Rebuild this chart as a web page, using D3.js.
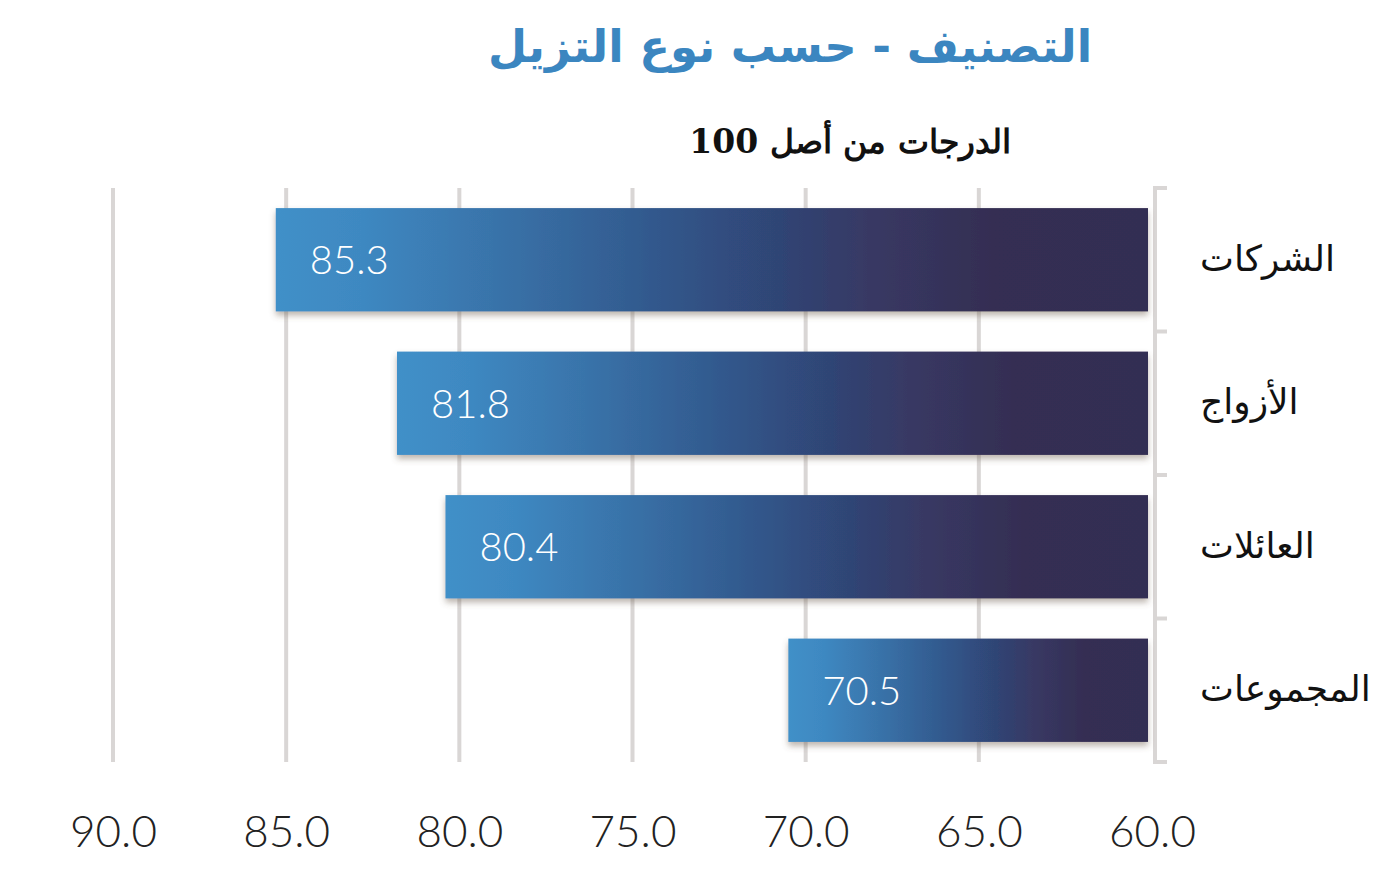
<!DOCTYPE html>
<html><head><meta charset="utf-8">
<script src="https://cdn.jsdelivr.net/npm/d3@7/dist/d3.min.js"></script>
<style>body{margin:0;background:#fff}svg{display:block}</style>
</head><body>
<svg id="c" width="1380" height="872"></svg>
<script>
const categories = ["الشركات","الأزواج","العائلات","المجموعات"];
const values = [85.3, 81.8, 80.4, 70.5];
const tickValues = [90, 85, 80, 75, 70, 65, 60];
const titleText = "التصنيف - حسب نوع التزيل";
const subtitleText = "الدرجات من أصل 100";

const svg = d3.select("#c");
const x = d3.scaleLinear().domain([90, 60]).range([113, 1152]);
const y = d3.scaleBand().domain(categories).range([188, 762]).paddingInner(0.28).paddingOuter(0.14);

const defs = svg.append("defs");
const grad = defs.append("linearGradient").attr("id","g").attr("x1","0").attr("x2","1").attr("y1","0").attr("y2","0");
[[0,"#4190c8"],[0.1,"#3e88c1"],[0.28,"#386fa5"],[0.45,"#31568a"],[0.58,"#2f4474"],[0.68,"#383964"],[0.82,"#342e53"],[1,"#332d52"]]
  .forEach(([o,c])=>grad.append("stop").attr("offset",o).attr("stop-color",c));
const f = defs.append("filter").attr("id","sh").attr("x","-5%").attr("y","-10%").attr("width","110%").attr("height","130%");
f.append("feDropShadow").attr("dx",0).attr("dy",4).attr("stdDeviation",3).attr("flood-color","#6b5a4a").attr("flood-opacity",0.45);

// title
svg.append("text").attr("x",790).attr("y",62).attr("text-anchor","middle")
  .attr("font-family","DejaVu Sans").attr("font-weight","bold").attr("font-size",45)
  .attr("fill","#3b86c0").text(titleText);
svg.append("text").attr("x",850).attr("y",153).attr("text-anchor","middle")
  .attr("font-family","DejaVu Serif, Liberation Serif").attr("font-weight","bold").attr("font-size",33)
  .attr("fill","#111").text(subtitleText);

// gridlines
svg.append("g").selectAll("line").data(tickValues.filter(d=>d!==60)).join("line")
  .attr("x1",d=>x(d)).attr("x2",d=>x(d)).attr("y1",188).attr("y2",762)
  .attr("stroke","#d9d6d5").attr("stroke-width",4);

// x axis labels
const xAxis = d3.axisBottom(x).tickValues(tickValues).tickFormat(d3.format(".1f")).tickSize(0).tickPadding(0);
const gx = svg.append("g").attr("transform","translate(0,816)").call(xAxis);
gx.select(".domain").remove();
gx.selectAll("text").attr("font-family","Lato").attr("font-weight",300).attr("font-size",44)
  .attr("fill","#222").attr("dy","0.71em");

// right axis
const gy = svg.append("g").attr("transform","translate(1155,0)");
gy.append("line").attr("x1",0).attr("x2",0).attr("y1",188).attr("y2",762).attr("stroke","#d9d6d5").attr("stroke-width",4);
const bounds = [188, ...categories.slice(1).map(c=>y(c)-y.step()*y.paddingInner()/2), 762];
gy.selectAll("line.t").data(bounds).join("line").attr("class","t")
  .attr("x1",-2).attr("x2",12).attr("y1",d=>d).attr("y2",d=>d)
  .attr("stroke","#d9d6d5").attr("stroke-width",4);

// bars
const data = categories.map((c,i)=>({c, v: values[i]}));
svg.append("g").selectAll("rect").data(data).join("rect")
  .attr("x",d=>x(d.v)).attr("y",d=>y(d.c)).attr("width",d=>x(60)-4-x(d.v)).attr("height",y.bandwidth())
  .attr("fill","url(#g)").attr("filter","url(#sh)");

svg.append("g").selectAll("text").data(data).join("text")
  .attr("x",d=>x(d.v)+34).attr("y",d=>y(d.c)+y.bandwidth()/2).attr("dy","0.36em")
  .attr("font-family","Lato").attr("font-weight",300).attr("font-size",40).attr("fill","#fff")
  .text(d=>d3.format(".1f")(d.v));

// category labels
svg.append("g").selectAll("text").data(categories).join("text")
  .attr("x",1200).attr("y",d=>y(d)+y.bandwidth()/2).attr("dy","0.3em")
  .attr("text-anchor","start").attr("font-family","DejaVu Sans").attr("font-size",36).attr("fill","#111")
  .text(d=>d);
</script>
</body></html>
